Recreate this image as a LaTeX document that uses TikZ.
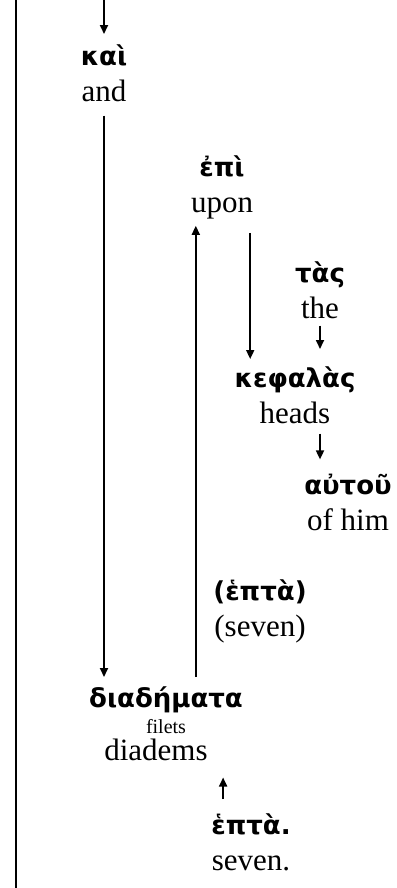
\documentclass[tikz,border=0pt]{standalone}
\usepackage{fontspec}
\setmainfont{Liberation Serif}
\newfontfamily\grk{DejaVu Sans}
\usetikzlibrary{arrows.meta,calc}
\tikzset{
  word/.style={align=center, inner sep=0pt, anchor=base, font=\fontsize{31}{36}\selectfont},
  arr/.style={-{Triangle[length=9pt,width=8pt]}, line width=1.7pt},
}
\newcommand{\gr}[1]{{\grk\bfseries\fontsize{26}{30}\selectfont #1}}

\begin{document}
\begin{tikzpicture}[x=1pt,y=-1pt]
        \useasboundingbox (0,0) rectangle (396,888);
        \draw[line width=2pt] (16,0) -- (16,888);

        % words, placed by the baseline of the last line
        \coordinate (in) at (104,0);
        \node[word] (kai) at (104,102) {\gr{καὶ}\\and};
        \node[word] (epi) at (222,212) {\gr{ἐπὶ}\\upon};
        \node[word] (tas) at (320,318) {\gr{τὰς}\\the};
        \node[word] (kephalas) at (295,423) {\gr{κεφαλὰς}\\heads};
        \node[word] (autou) at (348,530) {\gr{αὐτοῦ}\\of him};
        \node[word] (hepta1) at (260,636) {\gr{(ἑπτὰ)}\\(seven)};
        \node[word] (diademata) at (166,760) {\gr{διαδήματα}\\[-10pt]{\fontsize{20}{24}\selectfont filets}\hspace*{12pt}\\[-9pt]diadems\hspace*{20pt}};
        \node[word] (hepta) at (251,870) {\gr{ἑπτὰ.}\\seven.};

        \draw[arr, shorten >=11pt] (in) -- (kai.north);
        \draw[arr, shorten <=13pt, shorten >=9pt] (kai.south) -- (kai.south |- diademata.north);
        \draw[arr, shorten <=9pt, shorten >=7pt] ([xshift=5pt]diademata.north -| epi.south west) -- ([xshift=5pt]epi.south west);
        \draw[arr, shorten <=14pt, shorten >=7pt] ([xshift=-3pt]epi.south east) -- ([xshift=-3pt]epi.south east |- kephalas.north);
        \draw[arr, shorten <=7pt, shorten >=17pt] (tas.south) -- (tas.south |- kephalas.north);
        \draw[arr, shorten <=10pt, shorten >=14pt] (kephalas.south -| tas.south) -- (tas.south |- autou.north);
        \draw[arr, shorten <=14pt, shorten >=17pt] ([xshift=12pt]hepta.north west) -- ([xshift=12pt]hepta.north west |- diademata.south);
\end{tikzpicture}
\end{document}
